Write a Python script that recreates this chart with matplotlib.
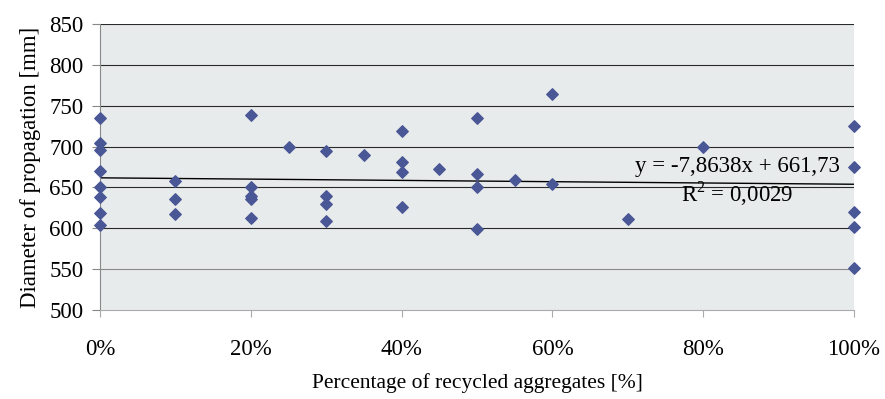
import matplotlib.pyplot as plt
from matplotlib.ticker import PercentFormatter

# recycled aggregate share (fraction) and spread diameter [mm]
pct = [0.0, 0.0, 0.0, 0.0, 0.0, 0.0, 0.0, 0.0,
       0.1, 0.1, 0.1,
       0.2, 0.2, 0.2, 0.2, 0.2,
       0.25,
       0.3, 0.3, 0.3, 0.3,
       0.35,
       0.4, 0.4, 0.4, 0.4,
       0.45,
       0.5, 0.5, 0.5, 0.5,
       0.55,
       0.6, 0.6,
       0.7,
       0.8,
       1.0, 1.0, 1.0, 1.0, 1.0]
diam = [735, 704, 696, 670, 650, 638, 619, 604,
        658, 636, 618,
        738, 650, 640, 636, 613,
        700,
        695, 640, 630, 609,
        690,
        719, 681, 669, 626,
        673,
        735, 666, 650, 599,
        659,
        764, 654,
        611,
        700,
        725, 675, 620, 601, 551]

# linear trend as printed on the chart
slope = -7.8638
intercept = 661.73
r2 = 0.0029

plt.rcParams['font.family'] = ['Liberation Serif', 'DejaVu Serif']

fig = plt.figure(figsize=(8.85, 3.99), dpi=100)
ax = fig.add_axes([0.113, 0.223, 0.852, 0.717])
ax.set_facecolor('#e8ebeb')

ax.set_xlim(0, 1)
ax.set_ylim(500, 850)
ax.set_yticks(range(500, 851, 50))
ax.set_xticks([0, 0.2, 0.4, 0.6, 0.8, 1.0])
ax.xaxis.set_major_formatter(PercentFormatter(1.0, decimals=0))

for y in range(550, 851, 50):
    ax.axhline(y, color='#2a2a2a' if y != 550 else '#8a8a8a', lw=0.8, zorder=1)

xs = [0, 1]
ax.plot(xs, [intercept + slope * x for x in xs], color='black', lw=1.0, zorder=2)

ax.scatter(pct, diam, marker='D', s=34, color='#4a5796', zorder=3, clip_on=False)

ax.text(0.981, 675, 'y = -7,8638x + 661,73', ha='right', va='center', fontsize=16.5)
ax.text(0.845, 642, 'R$^\\mathregular{2}$ = 0,0029', ha='center', va='center', fontsize=16.5)

for s in ['top', 'right']:
    ax.spines[s].set_visible(False)
ax.spines['left'].set_color('#888888')
ax.spines['bottom'].set_color('#aaaaaa')

ax.tick_params(axis='y', direction='out', length=6, color='#888888', labelsize=16.5, pad=6)
ax.tick_params(axis='x', direction='out', length=5, color='#aaaaaa', labelsize=16.5, pad=16)

ax.set_ylabel('Diameter of propagation [mm]', fontsize=16.5, labelpad=6)
ax.set_xlabel('Percentage of recycled aggregates [%]', fontsize=15.5, labelpad=9)

fig.savefig('out.png', dpi=100, facecolor='white')
